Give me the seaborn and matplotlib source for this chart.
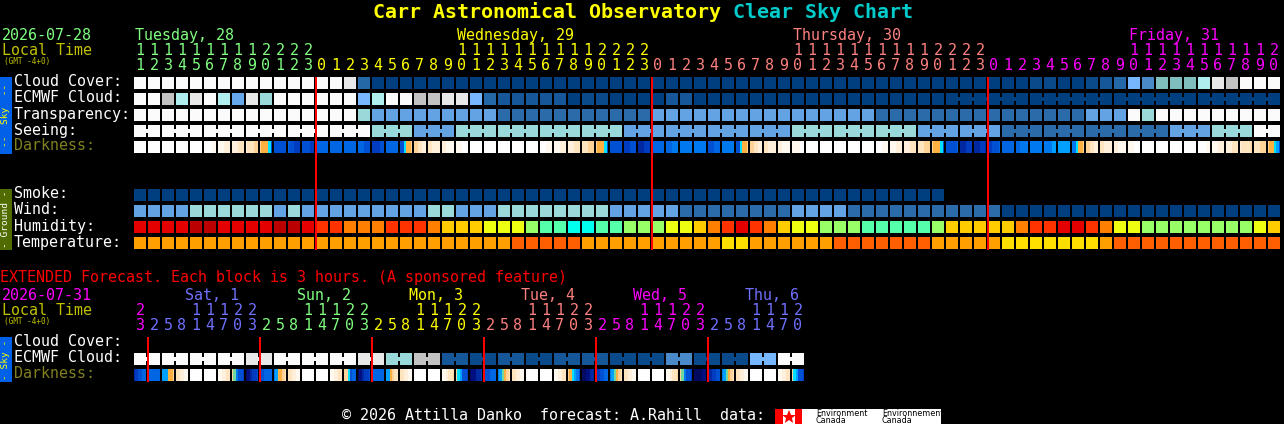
import matplotlib
matplotlib.use('Agg')
import matplotlib.pyplot as plt
from matplotlib.colors import ListedColormap
from matplotlib.patches import Rectangle
import numpy as np
import seaborn as sns

# --- data ---
cloud_colors = ['#003F7F', '#0A4A8A', '#155799', '#2468A8', '#4A8AC8', '#66A6EA', '#77B7FF',
                '#80BDBD', '#99D9D9', '#AEEEEE', '#C2C2C2', '#E8E8E8', '#FBFBFB']
sky_colors = ['#003F7F', '#2C6BAA', '#63A3E3', '#99D9D9', '#FBFBFB']
humidity_colors = ['#BB0000', '#E50000', '#FF3300', '#FF8000', '#FFCC00', '#EEFF11', '#99FF66', '#55FFAA', '#00FFEE']
temp_colors = ['#FF5F00', '#FF9F00', '#FFDF00']
dark_colors = ['#FFFFFF', '#FFF9F0', '#FFF0DC', '#FFE4C0', '#FFD298', '#FFB040', '#00E0FF', '#00A0FF',
               '#0078F0', '#0066E4', '#0050D4', '#003CC0', '#0028A0', '#001080', '#70D8A0', '#000A60']

cloud_cover = [12, 12, 12, 12, 12, 12, 12, 12, 12, 12, 12, 12, 12, 12, 12, 11, 3, 0, 0, 0,
               0, 0, 0, 0, 0, 0, 0, 0, 0, 0, 0, 0, 0, 0, 0, 0, 0, 0, 0, 0,
               0, 0, 0, 0, 0, 0, 0, 0, 0, 0, 0, 0, 0, 0, 0, 0, 0, 0, 0, 0,
               0, 0, 0, 0, 1, 1, 0, 0, 1, 2, 3, 6, 4, 7, 7, 7, 9, 11, 10, 12,
               12, 12]
ecmwf_cloud = [12, 12, 10, 9, 11, 12, 9, 5, 11, 8, 12, 12, 12, 12, 12, 12, 6, 9, 12, 12,
               10, 10, 11, 11, 6, 3, 2, 2, 2, 2, 2, 0, 1, 1, 0, 0, 0, 0, 2, 2,
               0, 0, 0, 0, 0, 0, 0, 0, 0, 0, 0, 0, 0, 0, 0, 0, 0, 0, 0, 0,
               0, 0, 0, 0, 0, 0, 0, 0, 0, 0, 0, 0, 0, 0, 0, 0, 0, 0, 0, 0,
               0, 0]
transparency = [4, 4, 4, 4, 4, 4, 4, 4, 4, 4, 4, 4, 4, 4, 4, 4, 3, 2, 2, 2,
                2, 2, 2, 2, 2, 2, 1, 1, 1, 1, 1, 1, 1, 1, 1, 1, 1, 2, 2, 2,
                2, 2, 2, 2, 2, 2, 2, 2, 2, 2, 2, 2, 2, 1, 1, 1, 1, 1, 1, 1,
                1, 1, 1, 1, 1, 1, 1, 1, 2, 2, 2, 4, 3, 4, 4, 4, 4, 4, 4, 4,
                4, 4]
seeing = [4, 4, 4, 4, 4, 4, 4, 4, 4, 4, 4, 4, 4, 4, 4, 4, 4, 3, 3, 3,
          2, 2, 2, 3, 3, 3, 3, 3, 3, 3, 3, 3, 3, 3, 3, 2, 2, 2, 2, 2,
          2, 2, 2, 2, 2, 2, 2, 3, 3, 3, 3, 3, 3, 3, 3, 3, 2, 2, 2, 2,
          2, 2, 1, 1, 1, 1, 1, 1, 1, 1, 1, 1, 1, 1, 2, 2, 2, 3, 3, 3,
          4, 4]
darkness = ['000000', '000000', '000000', '000000', '000000', '000011', '111222', '222333', '233344', '45556a',
            'aaaaaa', '9aabbb', 'aaaabb', '999999', '999999', '999999', '999aaa', 'bbbbaa', '999999', 'aa6554',
            '443322', '332222', '221111', '111000', '000000', '000000', '000000', '000000', '000000', '000111',
            '111222', '222333', '333444', '45556a', 'aaaaaa', 'bbbaaa', 'cccbbb', '999999', '999888', '888888',
            '888888', 'aaa999', '888888', 'aa6554', '443322', '332222', '221111', '111100', '000000', '000000',
            '000000', '000000', '000000', '000111', '111222', '222333', '333444', '45556a', 'aaaaa9', 'cccbbb',
            'cccbbc', 'bbaaa9', '999999', '998888', '888888', '888877', '777777', '886554', '443322', '332222',
            '221111', '111000', '000000', '000000', '000000', '000000', '000011', '111222', '222333', '233334',
            '333444', '45567a']
smoke = [0, 0, 0, 0, 0, 0, 0, 0, 0, 0, 0, 0, 0, 0, 0, 0, 0, 0, 0, 0,
         0, 0, 0, 0, 0, 0, 0, 0, 0, 0, 0, 0, 0, 0, 0, 0, 0, 0, 0, 0,
         0, 0, 0, 0, 0, 0, 0, 0, 0, 0, 0, 0, 0, 0, 0, 0, 0, 0]
wind = [2, 2, 2, 2, 3, 3, 3, 3, 3, 3, 2, 3, 2, 2, 2, 2, 2, 2, 2, 2,
        2, 3, 3, 2, 2, 2, 3, 3, 3, 3, 3, 3, 3, 3, 2, 2, 2, 2, 2, 1,
        1, 1, 1, 1, 1, 1, 1, 2, 2, 2, 2, 1, 1, 1, 1, 1, 1, 1, 1, 1,
        1, 1, 0, 0, 0, 0, 0, 0, 0, 0, 0, 0, 0, 0, 0, 0, 0, 0, 0, 0,
        0, 0]
humidity = [1, 1, 1, 1, 0, 0, 1, 1, 1, 1, 0, 0, 1, 2, 2, 3, 3, 3, 2, 2,
            2, 3, 4, 4, 4, 5, 5, 5, 6, 7, 7, 8, 8, 7, 7, 6, 6, 6, 5, 5,
            4, 3, 2, 1, 2, 3, 4, 5, 5, 6, 6, 6, 7, 7, 7, 7, 7, 6, 4, 4,
            4, 4, 4, 3, 2, 2, 1, 1, 2, 3, 5, 5, 6, 6, 6, 6, 6, 6, 6, 6,
            5, 4]
temperature = [1, 1, 1, 1, 1, 1, 1, 1, 1, 1, 1, 1, 1, 1, 1, 1, 1, 1, 1, 1,
               1, 1, 1, 1, 1, 1, 1, 0, 0, 0, 0, 0, 1, 1, 1, 1, 1, 1, 1, 1,
               1, 1, 2, 2, 1, 1, 1, 1, 1, 1, 0, 0, 0, 0, 0, 0, 0, 1, 1, 1,
               1, 1, 2, 2, 2, 2, 2, 2, 2, 1, 0, 0, 0, 0, 0, 0, 0, 0, 0, 0,
               0, 0]

ext_ecmwf = [12, 12, 12, 12, 12, 12, 12, 12, 11, 11, 12, 12, 12, 12, 12, 12, 11, 11, 8, 8,
             10, 10, 2, 2, 1, 1, 2, 2, 1, 1, 2, 2, 2, 2, 1, 1, 1, 1, 4, 4,
             1, 1, 1, 1, 6, 6, 12, 12]
ext_darkness = ['cbaa99', '999999', '777554', '332211', '000000', '000000', '112233', '4e8aab',
                'fdcbba', 'aa9999', '875543', '332211', '000000', '000000', '112233', '446a99',
                'fdcbba', 'a99999', '775433', '332211', '000000', '000000', '112334', '467aab',
                'fddccb', 'baa999', '87e543', '332211', '000000', '000000', '112233', '45678a',
                'ffddcc', 'cbaa99', '87e543', '332211', '000000', '000000', '112334', '4e8aab',
                'ffffdd', 'dcbbaa', '87e543', '332211', '000000', '000000', '112233', '467aab']

# groups of blocks belonging to one forecast step, joined by a thin bridge
seeing_groups = [(0, 1)] + [(s, min(s + 2, 81)) for s in range(2, 82, 3)]
ecmwf_groups = [(58, 63), (64, 69), (70, 75), (76, 81)]
ext_groups = [(s, s + 1) for s in range(0, 48, 2)]

hours = [11, 12, 13, 14, 15, 16, 17, 18, 19, 20, 21, 22, 23] + list(range(24)) * 3
hours = hours[:82]
ext_hours = [23] + [2, 5, 8, 11, 14, 17, 20, 23] * 5 + [2, 5, 8, 11, 14, 17, 20]
midnights = [13, 37, 61]
ext_midnights = [1, 9, 17, 25, 33, 41]

day_names = ['Tuesday, 28', 'Wednesday, 29', 'Thursday, 30', 'Friday, 31']
day_starts = [0, 23, 47, 71]
day_breaks = [0, 13, 37, 61]
day_colors = ['#80FF80', '#FFFF00', '#FF8080', '#FF00FF']
ext_names = ['Sat, 1', 'Sun, 2', 'Mon, 3', 'Tue, 4', 'Wed, 5', 'Thu, 6']
ext_breaks = [0, 1, 9, 17, 25, 33, 41]
ext_colors = ['#FF00FF', '#7070FF', '#80FF80', '#FFFF00', '#FF8080', '#FF00FF', '#7070FF']

# --- layout, in pixels ---
W, H = 1284, 424
DPI = 100
PX = 72 / DPI
LEFT = 134
STEP = 14
BLOCK = 12

plt.rcParams['font.family'] = ['DejaVu Sans Mono']
fig = plt.figure(figsize=(W / DPI, H / DPI), dpi=DPI, facecolor='black')


def heat_row(cells, colors, n_blocks, top):
    # the axes spans one row; gaps between blocks are drawn over the heatmap
    ax = fig.add_axes([(LEFT - 1) / W, 1 - (top + BLOCK) / H, n_blocks * STEP / W, BLOCK / H])
    sns.heatmap(np.array([cells]), cmap=ListedColormap(colors), vmin=-0.5, vmax=len(colors) - 0.5,
                cbar=False, xticklabels=False, yticklabels=False, ax=ax)
    per_block = len(cells) // n_blocks
    ax.vlines(np.arange(0, len(cells) + 1, per_block), 0, 1, colors='black', linewidth=2 * PX, zorder=3)
    ax.axis('off')
    return ax


def block_row(values, colors, top, groups=()):
    ax = heat_row(values, colors, len(values), top)
    for first, last in groups:
        for i in range(first, last):
            ax.hlines(0.5, i + 0.9, i + 1.1, colors=colors[values[i]], linewidth=4 * PX, capstyle='butt', zorder=4)


def dark_row(strings, top):
    cells = [int(ch, 16) for s in strings for ch in s]
    heat_row(cells, dark_colors, len(strings), top)


# main chart rows
block_row(cloud_cover, cloud_colors, 77)
block_row(ecmwf_cloud, cloud_colors, 93, ecmwf_groups)
block_row(transparency, sky_colors, 109)
block_row(seeing, sky_colors, 125, seeing_groups)
dark_row(darkness, 141)
block_row(smoke, sky_colors, 189)
block_row(wind, sky_colors, 205)
block_row(humidity, humidity_colors, 221)
block_row(temperature, temp_colors, 237)

# extended forecast rows
block_row(ext_ecmwf, cloud_colors, 353, ext_groups)
dark_row(ext_darkness, 369)

# everything else goes on a pixel-coordinate overlay
over = fig.add_axes([0, 0, 1, 1], zorder=5)
over.set_xlim(0, W)
over.set_ylim(H, 0)
over.axis('off')


def put(x, y, s, color, size=15, **kw):
    over.text(x, y, s, color=color, fontsize=size * PX, va='baseline', **kw)


def color_for(i, breaks, colors):
    return colors[np.searchsorted(breaks, i, side='right') - 1]


def box(x, y, w, h, color):
    over.add_patch(Rectangle((x, y), w, h, facecolor=color, edgecolor='none', antialiased=False))


# title
put(373, 18, 'Carr Astronomical Observatory', '#FFFF00', size=20, fontweight='bold')
put(733, 18, 'Clear Sky Chart', '#00CCCC', size=20, fontweight='bold')

# main header
put(2, 40, '2026-07-28', '#80FF80')
put(2, 55, 'Local Time', '#C0C000')
put(4, 64, '(GMT -4+0)', '#C0C000', size=7.6)
for name, start, col in zip(day_names, day_starts, day_colors):
    put(LEFT + 1 + STEP * start, 40, name, col)
for i, h in enumerate(hours):
    col = color_for(i, day_breaks, day_colors)
    x = LEFT + 6 + STEP * i
    if h >= 10:
        put(x, 55, str(h // 10), col, ha='center')
    put(x, 70, str(h % 10), col, ha='center')

# row labels
for label, top, col in [('Cloud Cover:', 77, 'white'), ('ECMWF Cloud:', 93, 'white'),
                        ('Transparency:', 109, 'white'), ('Seeing:', 125, 'white'),
                        ('Darkness:', 141, '#808020'), ('Smoke:', 189, 'white'),
                        ('Wind:', 205, 'white'), ('Humidity:', 221, 'white'),
                        ('Temperature:', 237, 'white'), ('Cloud Cover:', 337, 'white'),
                        ('ECMWF Cloud:', 353, 'white'), ('Darkness:', 369, '#808020')]:
    put(14, top + 9.5, label, col)

# side bars
for top, bottom, face, col, label in [(77, 154, '#0060E8', '#FFFF00', '--  Sky  --'),
                                      (189, 250, '#506B00', 'white', '- Ground -'),
                                      (337, 382, '#0060E8', '#FFFF00', '- Sky -')]:
    box(0, top, 12, bottom - top, face)
    over.text(6, (top + bottom) / 2, label, color=col, fontsize=9.5 * PX, rotation=90, ha='center', va='center')

# midnight markers
for i in midnights:
    box(LEFT + STEP * i - 1, 77, 2, 173, '#FF0000')
for i in ext_midnights:
    box(LEFT + STEP * i - 1, 337, 2, 45, '#FF0000')

# extended header
put(0, 282, 'EXTENDED Forecast. Each block is 3 hours. (A sponsored feature)', '#FF0000')
put(2, 300, '2026-07-31', '#FF00FF')
put(2, 315, 'Local Time', '#C0C000')
put(4, 324, '(GMT -4+0)', '#C0C000', size=7.6)
for name, start, col in zip(ext_names, ext_midnights, ext_colors[1:]):
    put(LEFT + 9 + STEP * (start + 2), 300, name, col)
for i, h in enumerate(ext_hours):
    col = color_for(i, ext_breaks, ext_colors)
    x = LEFT + 6 + STEP * i
    if h >= 10:
        put(x, 315, str(h // 10), col, ha='center')
    put(x, 330, str(h % 10), col, ha='center')

# footer and logo
put(342, 420, '\u00a9 2026 Attilla Danko  forecast: A.Rahill  data:', 'white')
box(775, 409, 166, 15, 'white')
box(775, 409, 8, 15, '#FF0000')
box(795, 409, 7, 15, '#FF0000')
over.plot([788.5], [416.5], marker='*', color='#FF0000', markersize=14 * PX, markeredgewidth=0)
for x, y, s in [(816, 416, 'Environment'), (816, 423, 'Canada'), (882, 416, 'Environnement'), (882, 423, 'Canada')]:
    over.text(x, y, s, color='black', fontsize=8 * PX, family='DejaVu Sans', va='baseline')

fig.savefig('out.png', dpi=DPI, facecolor='black')
